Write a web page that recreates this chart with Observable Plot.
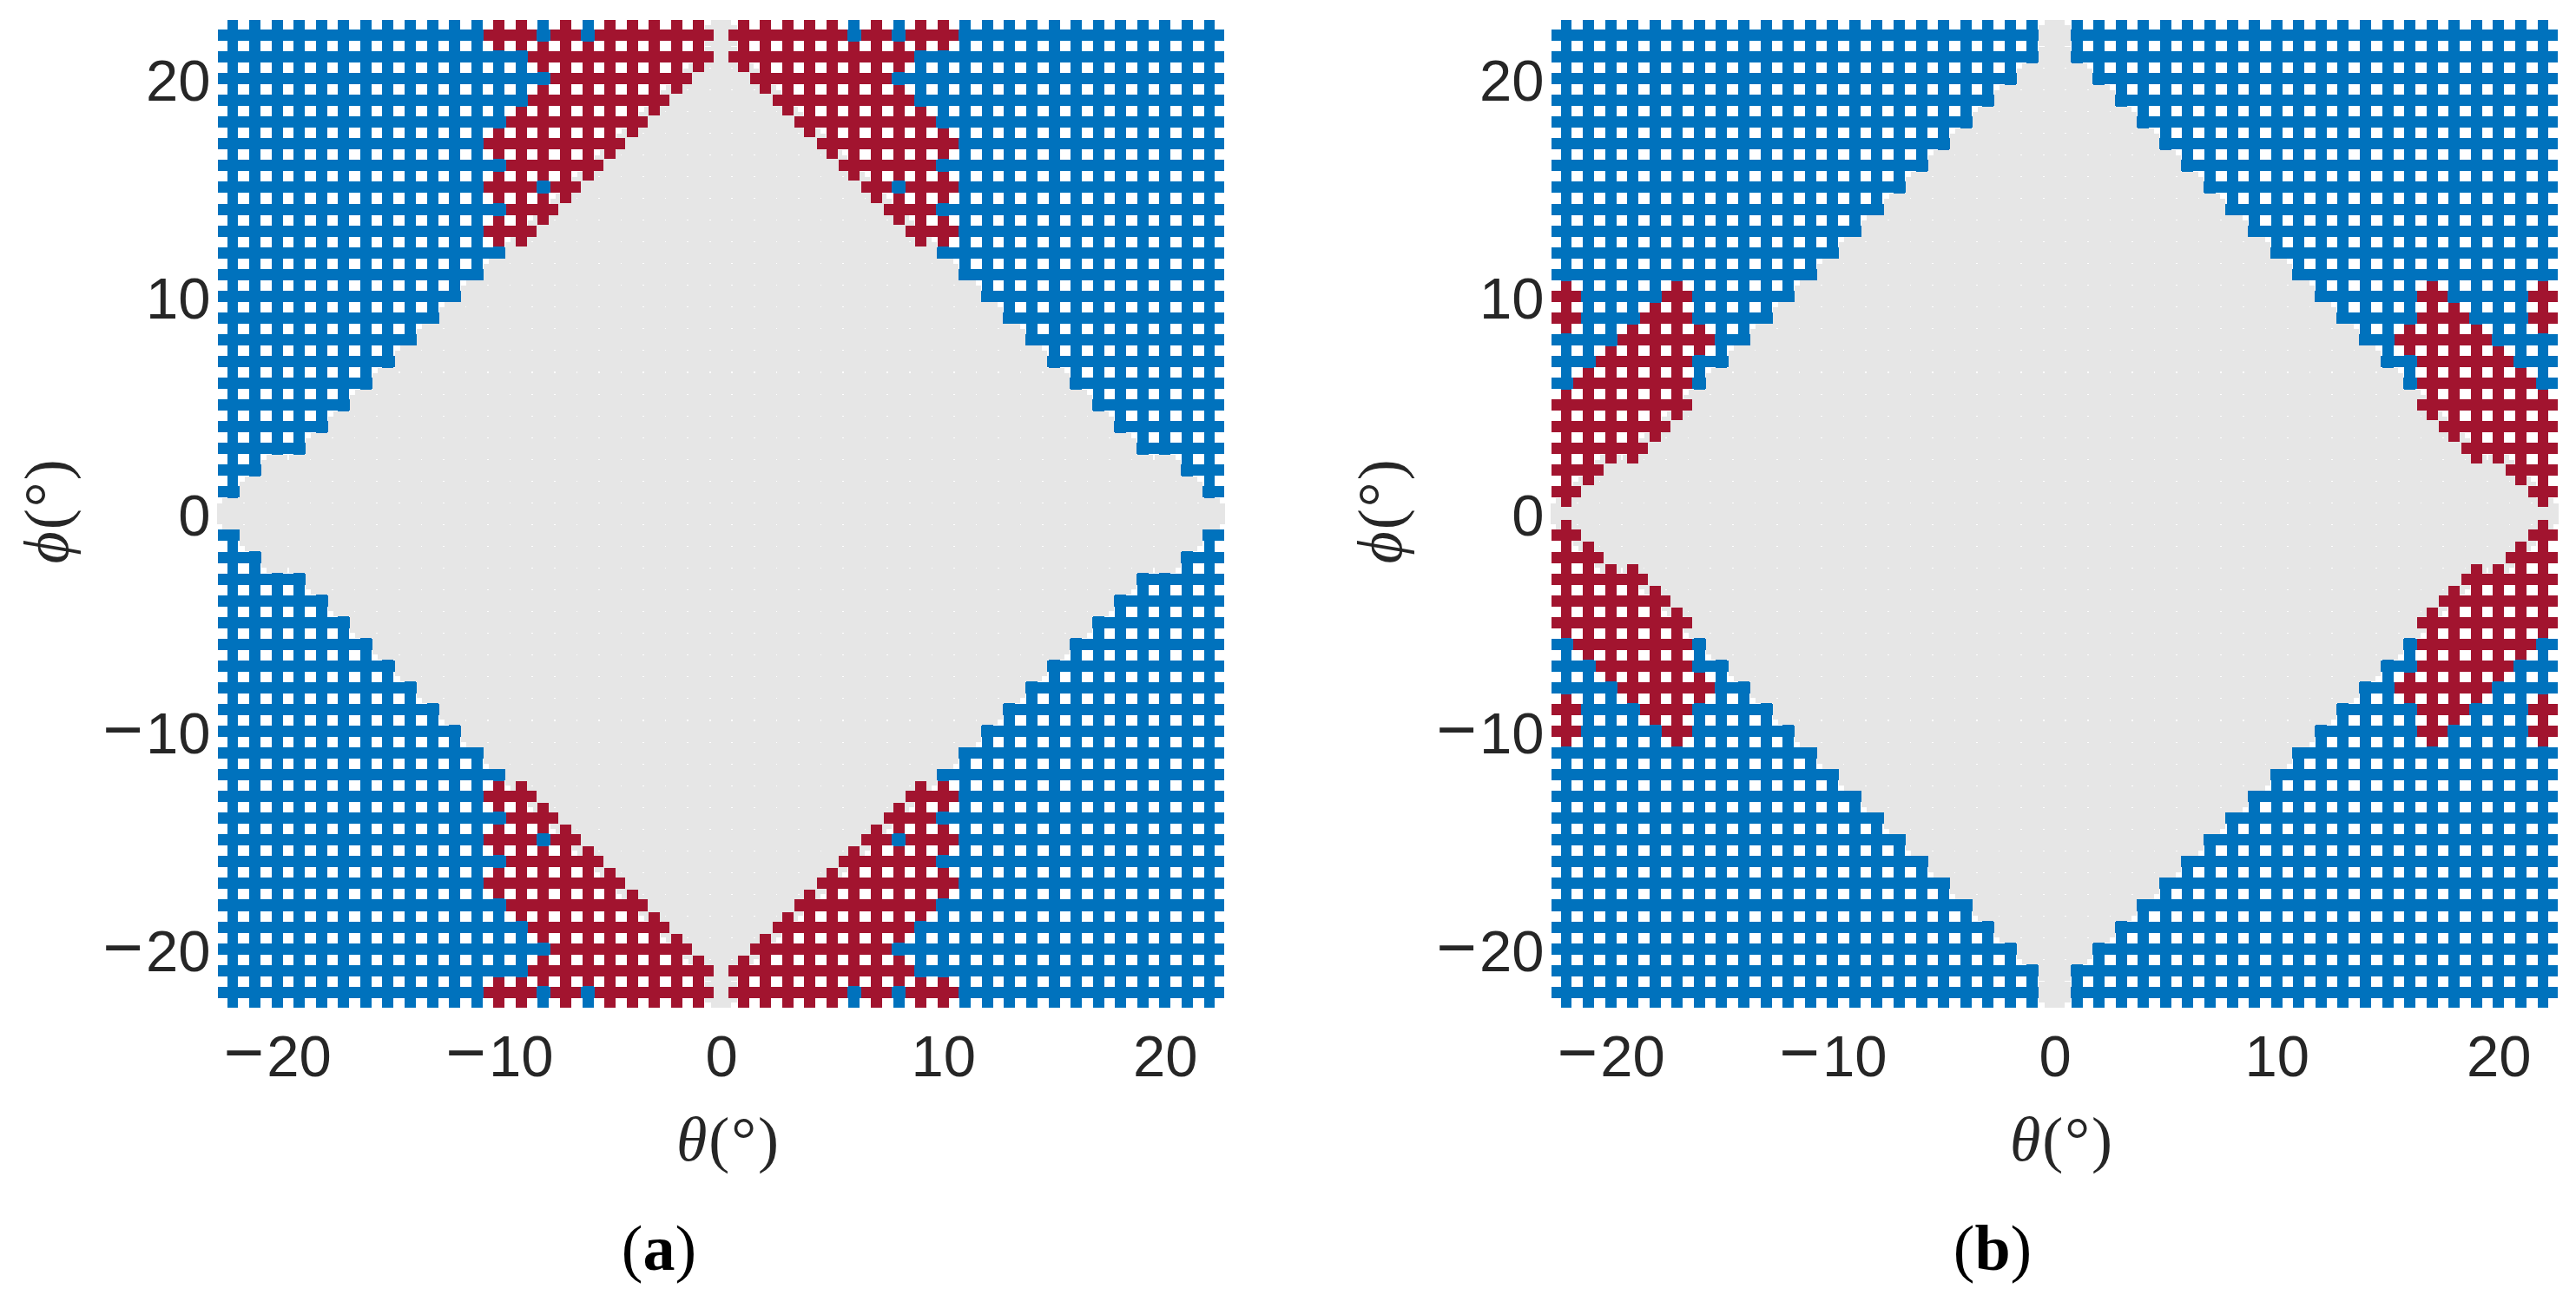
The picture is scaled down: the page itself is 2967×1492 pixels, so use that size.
<!DOCTYPE html>
<html>
<head>
<meta charset="utf-8">
<script src="https://cdn.jsdelivr.net/npm/d3@7"></script>
<script src="https://cdn.jsdelivr.net/npm/@observablehq/plot@0.6"></script>
<style>
  html, body { margin: 0; padding: 0; background: #fff; overflow: hidden; }
  #page { position: relative; width: 2967px; height: 1492px; }
  .panel { position: absolute; top: 0; width: 1430px; height: 1492px; }
  .caption { position: absolute; top: 1388px; left: 559px; width: 400px; text-align: center;
             font-family: "Liberation Serif", serif; font-size: 74px; line-height: 100px; color: #000; }
  svg { display: block; overflow: visible; }
</style>
</head>
<body>
<div id="page"></div>
<script>
// Site coordinates, degrees
const thetaSites = [-22,-21,-20,-19,-18,-17,-16,-15,-14,-13,-12,-11,-10,-9,-8,-7,-6,-5,-4,-3,-2,-1,0,1,2,3,4,5,6,7,8,9,10,11,12,13,14,15,16,17,18,19,20,21,22];
const phiRows = [22,21,20,19,18,17,16,15,14,13,12,11,10,9,8,7,6,5,4,3,2,1,0,-1,-2,-3,-4,-5,-6,-7,-8,-9,-10,-11,-12,-13,-14,-15,-16,-17,-18,-19,-20,-21,-22];
const tickValues = [-20,-10,0,10,20];

// Half width (in sites) of the grey central region on each row, same order as phiRows
const grayHalfWidth = [0,0,1,2,3,4,5,6,7,8,9,10,11,12,13,14,15,16,17,18,20,21,22,21,20,18,17,16,15,14,13,12,11,10,9,8,7,6,5,4,3,2,1,0,0];

// Red runs [from, to] on each row of panel (a), same order as phiRows
const panelARed = [
  [[-10,-9],[-7,-7],[-5,-1],[1,5],[7,7],[9,10]],
  [[-8,-1],[1,8]],
  [[-7,-2],[2,7]],
  [[-8,-3],[3,8]],
  [[-9,-4],[4,9]],
  [[-10,-5],[5,10]],
  [[-9,-6],[6,9]],
  [[-10,-9],[-7,-7],[7,7],[9,10]],
  [[-9,-8],[8,9]],
  [[-10,-9],[9,10]],
  [],[],[],[],[],[],[],[],[],[],[],[],[],[],[],[],[],[],[],[],[],[],[],[],[],
  [[-10,-9],[9,10]],
  [[-9,-8],[8,9]],
  [[-10,-9],[-7,-7],[7,7],[9,10]],
  [[-9,-6],[6,9]],
  [[-10,-5],[5,10]],
  [[-9,-4],[4,9]],
  [[-8,-3],[3,8]],
  [[-7,-2],[2,7]],
  [[-8,-1],[1,8]],
  [[-10,-9],[-7,-7],[-5,-1],[1,5],[7,7],[9,10]]
];

// Red runs [from, to] on each row of panel (b), same order as phiRows
const panelBRed = [
  [],[],[],[],[],[],[],[],[],[],[],[],
  [[-22,-22],[-17,-17],[17,17],[22,22]],
  [[-22,-22],[-18,-17],[17,18],[22,22]],
  [[-19,-16],[16,19]],
  [[-20,-17],[17,20]],
  [[-21,-17],[17,21]],
  [[-22,-17],[17,22]],
  [[-22,-18],[18,22]],
  [[-22,-19],[19,22]],
  [[-22,-21],[21,22]],
  [[-22,-22],[22,22]],
  [],
  [[-22,-22],[22,22]],
  [[-22,-21],[21,22]],
  [[-22,-19],[19,22]],
  [[-22,-18],[18,22]],
  [[-22,-17],[17,22]],
  [[-21,-17],[17,21]],
  [[-20,-17],[17,20]],
  [[-19,-16],[16,19]],
  [[-22,-22],[-18,-17],[17,18],[22,22]],
  [[-22,-22],[-17,-17],[17,17],[22,22]],
  [],[],[],[],[],[],[],[],[],[],[],[]
];

const BLUE = "#0072BD", RED = "#A2142F", GRAY = "#E6E6E6", INK = "#262626";
const SVGNS = "http://www.w3.org/2000/svg";

function sitesOf(redRuns) {
  const blue = [], gray = [], red = [];
  phiRows.forEach((phi, r) => {
    thetaSites.forEach(theta => {
      if (redRuns[r].some(([a, b]) => theta >= a && theta <= b)) red.push({theta, phi});
      else if (Math.abs(theta) <= grayHalfWidth[r]) gray.push({theta, phi});
      else blue.push({theta, phi});
    });
  });
  return {blue, gray, red};
}

// A site is a plus: one horizontal and one vertical rect
function plus(data, fill, hx, hy, vx, vy) {
  const common = {fill, shapeRendering: "crispEdges"};
  return [
    Plot.rect(data, {x1: d => d.theta - hx, x2: d => d.theta + hx, y1: d => d.phi - hy, y2: d => d.phi + hy, ...common}),
    Plot.rect(data, {x1: d => d.theta - vx, x2: d => d.theta + vx, y1: d => d.phi - vy, y2: d => d.phi + vy, ...common})
  ];
}

const tickText = d => d < 0 ? "\u2212" + (-d) : String(d);

function panel(redRuns, left, letter) {
  const {blue, gray, red} = sitesOf(redRuns);
  const chart = Plot.plot({
    width: 1430,
    height: 1400,
    marginLeft: 250.1,
    marginRight: 19.1,
    marginTop: 23,
    marginBottom: 239.2,
    style: {background: "transparent", overflow: "visible"},
    x: {domain: [-22.7, 22.7]},
    y: {domain: [-22.7, 22.7]},
    marks: [
      ...plus(blue, BLUE, 0.684, 0.26, 0.254, 0.70),
      ...plus(gray, GRAY, 0.704, 0.479, 0.469, 0.718),
      ...plus(red, RED, 0.684, 0.26, 0.254, 0.70),
      Plot.axisX({ticks: tickValues, tickSize: 0, tickPadding: 31, label: null, tickFormat: tickText,
        fontFamily: "Liberation Sans", fontSize: 67, fill: INK}),
      Plot.axisY({ticks: tickValues, tickSize: 0, tickPadding: 8, label: null, dy: 3.5, tickFormat: tickText,
        fontFamily: "Liberation Sans", fontSize: 67, fill: INK}),
      Plot.text(["\u03b8(\u00b0)"], {text: d => d, frameAnchor: "bottom", lineAnchor: "bottom", dx: 8, dy: 176,
        fontFamily: "Liberation Serif", fontSize: 72, fill: INK}),
      Plot.text(["\u03d5(\u00b0)"], {text: d => d, frameAnchor: "left", lineAnchor: "bottom", textAnchor: "middle", rotate: -90, dx: -173, dy: -4,
        fontFamily: "Liberation Serif", fontSize: 72, fill: INK})
    ]
  });
  chart.querySelectorAll("text").forEach(t => {
    const s = t.textContent;
    const host = t.querySelector("tspan") || t;
    if (s === "\u03b8(\u00b0)" || s === "\u03d5(\u00b0)") {
      host.textContent = "";
      const i = document.createElementNS(SVGNS, "tspan");
      i.setAttribute("font-style", "italic");
      i.textContent = s[0];
      host.appendChild(i);
      host.appendChild(document.createTextNode(s.slice(1)));
      t.setAttribute("letter-spacing", "2");
    } else if (s[0] === "\u2212") {
      host.textContent = "";
      const m = document.createElementNS(SVGNS, "tspan");
      m.setAttribute("font-size", "80");
      m.textContent = "\u2212";
      const n = document.createElementNS(SVGNS, "tspan");
      n.setAttribute("dx", "3");
      n.textContent = s.slice(1);
      host.appendChild(m);
      host.appendChild(n);
    }
  });
  const div = document.createElement("div");
  div.className = "panel";
  div.style.left = left + "px";
  div.appendChild(chart);
  const cap = document.createElement("div");
  cap.className = "caption";
  cap.innerHTML = "(<b>" + letter + "</b>)";
  div.appendChild(cap);
  document.getElementById("page").appendChild(div);
}

panel(panelARed, 0, "a");
panel(panelBRed, 1536, "b");
</script>
</body>
</html>
